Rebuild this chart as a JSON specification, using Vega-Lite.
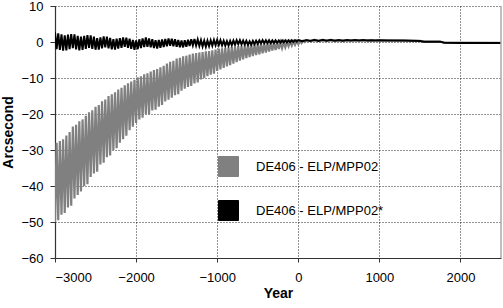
{
"$schema": "https://vega.github.io/schema/vega-lite/v6.json",
"width": 446, "height": 252,
"autosize": {"type": "none"},
"padding": {"left": 55, "top": 6, "right": 2, "bottom": 50},
"background": "white",
"config": {
  "view": {"stroke": null},
  "font": "Liberation Sans",
  "axis": {
    "labelFont": "Liberation Sans", "labelFontSize": 13, "labelColor": "#000", "labelOverlap": false,
    "titleFont": "Liberation Sans", "titleFontSize": 14, "titleFontWeight": "bold", "titleColor": "#000",
    "domainColor": "#333", "domainWidth": 1.2, "tickColor": "#333",
    "grid": true, "gridColor": "#000", "gridDash": [1, 2], "gridWidth": 1, "gridOpacity": 0.85
  }
},
"datasets": {
"grey": [
{"year":-3000,"v":-50},{"year":-2980,"v":-28},{"year":-2960,"v":-49.5},{"year":-2940,"v":-27.5},{"year":-2920,"v":-48},{"year":-2900,"v":-27},
{"year":-2880,"v":-47.5},{"year":-2860,"v":-26},{"year":-2840,"v":-46},{"year":-2820,"v":-25},{"year":-2800,"v":-45.5},{"year":-2780,"v":-23.5},
{"year":-2760,"v":-43.5},{"year":-2740,"v":-23},{"year":-2720,"v":-42.5},{"year":-2700,"v":-22},{"year":-2680,"v":-41.5},{"year":-2660,"v":-21.5},
{"year":-2640,"v":-40},{"year":-2620,"v":-20.5},{"year":-2600,"v":-39.5},{"year":-2580,"v":-19.5},{"year":-2560,"v":-37.5},{"year":-2540,"v":-19},
{"year":-2520,"v":-36.5},{"year":-2500,"v":-18},{"year":-2480,"v":-36},{"year":-2460,"v":-17.5},{"year":-2440,"v":-34},{"year":-2420,"v":-16.5},
{"year":-2400,"v":-33.5},{"year":-2380,"v":-16},{"year":-2360,"v":-32},{"year":-2340,"v":-15},{"year":-2320,"v":-31.5},{"year":-2300,"v":-14.5},
{"year":-2280,"v":-30},{"year":-2260,"v":-14},{"year":-2240,"v":-29.5},{"year":-2220,"v":-13.2},{"year":-2200,"v":-28},{"year":-2180,"v":-12.7},
{"year":-2160,"v":-27},{"year":-2140,"v":-12},{"year":-2120,"v":-26},{"year":-2100,"v":-11.5},{"year":-2080,"v":-24.5},{"year":-2060,"v":-11},
{"year":-2040,"v":-23.5},{"year":-2020,"v":-10.5},{"year":-2000,"v":-22.5},{"year":-1980,"v":-9.8},{"year":-1960,"v":-21.5},{"year":-1940,"v":-9.5},
{"year":-1920,"v":-21},{"year":-1900,"v":-9},{"year":-1880,"v":-20},{"year":-1860,"v":-8.7},{"year":-1840,"v":-20},{"year":-1820,"v":-8.2},
{"year":-1800,"v":-19},{"year":-1780,"v":-7.8},{"year":-1760,"v":-18.8},{"year":-1740,"v":-7.5},{"year":-1720,"v":-18},{"year":-1700,"v":-7},
{"year":-1680,"v":-17.5},{"year":-1660,"v":-6.6},{"year":-1640,"v":-16.5},{"year":-1620,"v":-6},{"year":-1600,"v":-16},{"year":-1580,"v":-5.5},
{"year":-1560,"v":-15.5},{"year":-1540,"v":-5.2},{"year":-1520,"v":-14.8},{"year":-1500,"v":-4.6},{"year":-1480,"v":-14.5},{"year":-1460,"v":-4.4},
{"year":-1440,"v":-13.5},{"year":-1420,"v":-4},{"year":-1400,"v":-13},{"year":-1380,"v":-3.8},{"year":-1360,"v":-12.5},{"year":-1340,"v":-3.5},
{"year":-1320,"v":-12.2},{"year":-1300,"v":-3.2},{"year":-1280,"v":-11.5},{"year":-1260,"v":-3.1},{"year":-1240,"v":-11.2},{"year":-1220,"v":-2.9},
{"year":-1200,"v":-10.4},{"year":-1180,"v":-2.8},{"year":-1160,"v":-10},{"year":-1140,"v":-2.6},{"year":-1120,"v":-9.5},{"year":-1100,"v":-2.5},
{"year":-1080,"v":-9.1},{"year":-1060,"v":-2.3},{"year":-1040,"v":-8.8},{"year":-1020,"v":-2.1},{"year":-1000,"v":-8},{"year":-980,"v":-1.85},
{"year":-960,"v":-7.6},{"year":-940,"v":-1.75},{"year":-920,"v":-7.2},{"year":-900,"v":-1.6},{"year":-880,"v":-6.8},{"year":-860,"v":-1.5},
{"year":-840,"v":-6.4},{"year":-820,"v":-1.35},{"year":-800,"v":-6},{"year":-780,"v":-1.25},{"year":-760,"v":-5.6},{"year":-740,"v":-1.15},
{"year":-720,"v":-5.2},{"year":-700,"v":-1.05},{"year":-680,"v":-4.85},{"year":-660,"v":-0.95},{"year":-640,"v":-4.5},{"year":-620,"v":-0.85},
{"year":-600,"v":-4.2},{"year":-580,"v":-0.75},{"year":-560,"v":-3.9},{"year":-540,"v":-0.7},{"year":-520,"v":-3.65},{"year":-500,"v":-0.6},
{"year":-480,"v":-3.4},{"year":-460,"v":-0.5},{"year":-440,"v":-3.15},{"year":-420,"v":-0.45},{"year":-400,"v":-2.9},{"year":-380,"v":-0.35},
{"year":-360,"v":-2.65},{"year":-340,"v":-0.3},{"year":-320,"v":-2.4},{"year":-300,"v":-0.2},{"year":-280,"v":-2.2},{"year":-260,"v":-0.15},
{"year":-240,"v":-1.95},{"year":-220,"v":-0.1},{"year":-200,"v":-1.7},{"year":-180,"v":-0.05},{"year":-160,"v":-1.45},{"year":-140,"v":0.02},
{"year":-120,"v":-1.2},{"year":-100,"v":0.1},{"year":-80,"v":-1},{"year":-60,"v":0.15},{"year":-40,"v":-0.8},{"year":-20,"v":0.25},
{"year":0,"v":-0.6},{"year":20,"v":0.3},{"year":40,"v":-0.3},{"year":60,"v":0.35},{"year":80,"v":0},{"year":100,"v":0.35},
{"year":200,"v":0.4},{"year":500,"v":0.4},{"year":1000,"v":0.45},{"year":1500,"v":0.3},{"year":1550,"v":0.1},{"year":1750,"v":0.1},
{"year":1800,"v":-0.2},{"year":2500,"v":-0.25}
],
"black": [
{"year":-3000,"v":2.7},{"year":-2980,"v":-2.0},{"year":-2960,"v":2.4},{"year":-2940,"v":-2.2},{"year":-2920,"v":2.1},{"year":-2900,"v":-2.4},
{"year":-2880,"v":1.85},{"year":-2860,"v":-2.3},{"year":-2840,"v":2.05},{"year":-2820,"v":-2.0},{"year":-2800,"v":2.2},{"year":-2780,"v":-1.7},
{"year":-2760,"v":2.1},{"year":-2740,"v":-2.05},{"year":-2720,"v":1.7},{"year":-2700,"v":-2.35},{"year":-2680,"v":1.5},{"year":-2660,"v":-2.2},
{"year":-2640,"v":1.7},{"year":-2620,"v":-1.9},{"year":-2600,"v":1.9},{"year":-2580,"v":-1.6},{"year":-2560,"v":1.85},{"year":-2540,"v":-1.9},
{"year":-2520,"v":1.5},{"year":-2500,"v":-2.15},{"year":-2480,"v":1.1},{"year":-2460,"v":-2.1},{"year":-2440,"v":1.3},{"year":-2420,"v":-1.8},
{"year":-2400,"v":1.55},{"year":-2380,"v":-1.5},{"year":-2360,"v":1.5},{"year":-2340,"v":-1.75},{"year":-2320,"v":1.15},{"year":-2300,"v":-2.05},
{"year":-2280,"v":0.8},{"year":-2260,"v":-2.1},{"year":-2240,"v":0.95},{"year":-2220,"v":-1.85},{"year":-2200,"v":1.1},{"year":-2180,"v":-1.6},
{"year":-2160,"v":1.3},{"year":-2140,"v":-1.35},{"year":-2120,"v":1.2},{"year":-2100,"v":-1.6},{"year":-2080,"v":0.9},{"year":-2060,"v":-1.9},
{"year":-2040,"v":0.6},{"year":-2020,"v":-2.15},{"year":-2000,"v":0.45},{"year":-1980,"v":-2.0},{"year":-1960,"v":0.75},{"year":-1940,"v":-1.7},
{"year":-1920,"v":1.0},{"year":-1900,"v":-1.4},{"year":-1880,"v":1.25},{"year":-1860,"v":-1.35},{"year":-1840,"v":1.0},{"year":-1820,"v":-1.5},
{"year":-1800,"v":0.75},{"year":-1780,"v":-1.7},{"year":-1760,"v":0.5},{"year":-1740,"v":-1.85},{"year":-1720,"v":0.55},{"year":-1700,"v":-1.6},
{"year":-1680,"v":0.7},{"year":-1660,"v":-1.4},{"year":-1640,"v":0.85},{"year":-1620,"v":-1.2},{"year":-1600,"v":1.0},{"year":-1580,"v":-1.05},
{"year":-1560,"v":0.9},{"year":-1540,"v":-1.2},{"year":-1520,"v":0.75},{"year":-1500,"v":-1.35},{"year":-1480,"v":0.57},{"year":-1460,"v":-1.45},
{"year":-1440,"v":0.4},{"year":-1420,"v":-1.5},{"year":-1400,"v":0.47},{"year":-1380,"v":-1.32},{"year":-1360,"v":0.62},{"year":-1340,"v":-1.12},
{"year":-1320,"v":0.77},{"year":-1300,"v":-0.93},{"year":-1280,"v":0.84},{"year":-1260,"v":-0.98},{"year":-1240,"v":0.68},{"year":-1220,"v":-1.1},
{"year":-1200,"v":0.52},{"year":-1180,"v":-1.22},{"year":-1160,"v":0.36},{"year":-1140,"v":-1.3},{"year":-1120,"v":0.37},{"year":-1100,"v":-1.16},
{"year":-1080,"v":0.47},{"year":-1060,"v":-1.02},{"year":-1040,"v":0.56},{"year":-1020,"v":-0.89},{"year":-1000,"v":0.58},{"year":-980,"v":-0.86},
{"year":-960,"v":0.47},{"year":-940,"v":-0.93},{"year":-920,"v":0.35},{"year":-900,"v":-1.0},{"year":-880,"v":0.24},{"year":-860,"v":-1.0},
{"year":-840,"v":0.31},{"year":-820,"v":-0.87},{"year":-800,"v":0.4},{"year":-780,"v":-0.73},{"year":-760,"v":0.49},{"year":-740,"v":-0.57},
{"year":-720,"v":0.52},{"year":-700,"v":-0.64},{"year":-680,"v":0.41},{"year":-660,"v":-0.7},{"year":-640,"v":0.31},{"year":-620,"v":-0.77},
{"year":-600,"v":0.2},{"year":-580,"v":-0.74},{"year":-560,"v":0.29},{"year":-540,"v":-0.61},{"year":-520,"v":0.37},{"year":-500,"v":-0.48},
{"year":-480,"v":0.46},{"year":-460,"v":-0.36},{"year":-440,"v":0.52},{"year":-420,"v":-0.31},{"year":-400,"v":0.5},{"year":-380,"v":-0.29},
{"year":-360,"v":0.48},{"year":-340,"v":-0.27},{"year":-320,"v":0.46},{"year":-300,"v":-0.25},{"year":-280,"v":0.45},{"year":-260,"v":-0.21},
{"year":-240,"v":0.45},{"year":-220,"v":-0.17},{"year":-200,"v":0.45},{"year":-180,"v":-0.13},{"year":-160,"v":0.45},{"year":-140,"v":-0.09},
{"year":-120,"v":0.45},{"year":-100,"v":-0.05},{"year":-80,"v":0.47},{"year":-60,"v":0.03},{"year":-40,"v":0.52},{"year":-20,"v":0.1},
{"year":0,"v":0.55},{"year":50,"v":0.25},{"year":100,"v":0.55},{"year":150,"v":0.3},{"year":200,"v":0.6},{"year":250,"v":0.3},
{"year":300,"v":0.6},{"year":350,"v":0.35},{"year":400,"v":0.6},{"year":450,"v":0.35},{"year":500,"v":0.55},{"year":550,"v":0.35},
{"year":600,"v":0.55},{"year":650,"v":0.4},{"year":700,"v":0.55},{"year":750,"v":0.4},{"year":800,"v":0.55},{"year":850,"v":0.4},
{"year":900,"v":0.5},{"year":950,"v":0.4},{"year":1000,"v":0.5},{"year":1100,"v":0.45},{"year":1200,"v":0.42},{"year":1300,"v":0.4},
{"year":1400,"v":0.38},{"year":1500,"v":0.3},{"year":1550,"v":0.1},{"year":1750,"v":0.1},{"year":1800,"v":-0.2},{"year":2000,"v":-0.25},
{"year":2200,"v":-0.25},{"year":2500,"v":-0.25}
]
},
"layer": [
  {
    "data": {"name": "grey"},
    "mark": {"type": "line", "strokeWidth": 2.2, "clip": true},
    "encoding": {
      "x": {"field": "year", "type": "quantitative",
            "scale": {"domain": [-3000, 2500], "nice": false, "zero": false},
            "axis": {"title": "Year", "values": [-3000, -2000, -1000, 0, 1000, 2000], "format": "d",
                     "tickSize": 4, "labelPadding": 9, "titlePadding": 2}},
      "y": {"field": "v", "type": "quantitative",
            "scale": {"domain": [-60, 10], "nice": false, "zero": false},
            "axis": {"title": "Arcsecond", "values": [-60, -50, -40, -30, -20, -10, 0, 10], "format": "d",
                     "tickSize": 5, "labelPadding": 7, "titlePadding": 5}},
      "color": {"datum": "DE406 - ELP/MPP02", "type": "nominal",
                "scale": {"domain": ["DE406 - ELP/MPP02", "DE406 - ELP/MPP02*"], "range": ["#808080", "#000000"]},
                "legend": {"orient": "none", "legendX": 163, "legendY": 150, "title": null, "padding": 0,
                           "symbolType": "square", "symbolSize": 400, "rowPadding": 19, "labelOffset": 17,
                           "labelFontSize": 13, "labelFont": "Liberation Sans", "labelColor": "#000",
                           "encode": {"symbols": {"update": {"fill": {"scale": "color", "field": "value"},
                                                             "stroke": {"value": "#444"}, "strokeWidth": {"value": 1}, "opacity": {"value": 1}}}}}}
    }
  },
  {
    "data": {"name": "black"},
    "mark": {"type": "line", "strokeWidth": 2, "clip": true},
    "encoding": {
      "x": {"field": "year", "type": "quantitative",
            "scale": {"domain": [-3000, 2500], "nice": false, "zero": false},
            "axis": {"title": "Year", "values": [-3000, -2000, -1000, 0, 1000, 2000], "format": "d",
                     "tickSize": 4, "labelPadding": 9, "titlePadding": 2}},
      "y": {"field": "v", "type": "quantitative",
            "scale": {"domain": [-60, 10], "nice": false, "zero": false},
            "axis": {"title": "Arcsecond", "values": [-60, -50, -40, -30, -20, -10, 0, 10], "format": "d",
                     "tickSize": 5, "labelPadding": 7, "titlePadding": 5}},
      "color": {"datum": "DE406 - ELP/MPP02*", "type": "nominal"}
    }
  },
  {
    "data": {"values": [{}]},
    "mark": {"type": "rule", "color": "#aaaaaa", "strokeWidth": 1.5},
    "encoding": {"x": {"datum": 2500}}
  }
]
}
